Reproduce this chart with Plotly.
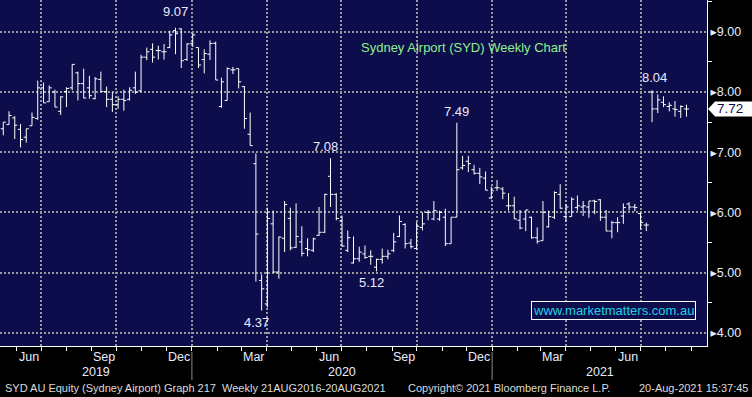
import pandas as pd
import plotly.graph_objects as go

# ---------------- data ----------------
week_end = pd.date_range(end="2021-08-20", periods=120, freq="7D")

opens = [7.39, 7.46, 7.57, 7.38, 7.25, 7.44, 7.56, 8.07, 7.84, 8.00,
         7.68, 8.01, 8.07, 8.32, 8.14, 8.07, 7.89, 8.21, 8.01, 7.88,
         7.79, 7.88, 7.88, 8.07, 8.02, 8.58, 8.71, 8.69, 8.67, 8.74,
         9.02, 9.05, 8.54, 8.81, 8.74, 8.54, 8.63, 8.81, 7.76, 7.86,
         8.37, 8.39, 8.09, 7.30, 6.81, 4.87, 4.48, 5.81, 5.01, 5.57,
         5.90, 5.42, 5.51, 5.40, 5.37, 5.62, 5.67, 6.60, 6.30, 5.86,
         5.37, 5.16, 5.23, 5.31, 5.27, 5.09, 5.22, 5.27, 5.37, 5.60,
         5.80, 5.49, 5.40, 5.75, 6.00, 5.89, 5.89, 5.92, 5.48, 5.92,
         6.74, 6.85, 6.71, 6.65, 6.57, 6.24, 6.41, 6.39, 6.11, 6.11,
         5.87, 5.89, 5.92, 5.58, 5.53, 5.76, 5.92, 6.30, 5.93, 5.93,
         6.08, 6.09, 6.09, 6.19, 6.21, 5.92, 5.69, 5.83, 5.94, 6.14,
         6.09, 5.98, 5.79, 8.00, 7.72, 7.83, 7.76, 7.72, 7.68, 7.72]
highs = [7.50, 7.68, 7.60, 7.47, 7.39, 7.66, 8.19, 8.16, 8.11, 8.04,
         7.93, 8.08, 8.46, 8.34, 8.39, 8.27, 8.25, 8.34, 8.09, 8.00,
         7.93, 8.04, 8.08, 8.34, 8.62, 8.74, 8.81, 8.77, 8.80, 9.02,
         9.07, 9.06, 8.81, 8.98, 8.74, 8.71, 8.86, 8.84, 8.24, 8.41,
         8.42, 8.39, 8.10, 7.66, 6.98, 4.97, 6.08, 6.03, 5.60, 6.19,
         6.08, 6.15, 5.77, 5.57, 5.58, 6.09, 6.31, 6.90, 6.32, 5.95,
         5.70, 5.60, 5.43, 5.45, 5.37, 5.23, 5.40, 5.38, 5.66, 5.95,
         5.82, 5.56, 5.84, 6.00, 6.04, 6.19, 6.03, 6.06, 5.92, 7.49,
         6.94, 6.94, 6.79, 6.74, 6.68, 6.43, 6.54, 6.42, 6.32, 6.26,
         6.04, 6.04, 5.93, 5.75, 6.19, 6.03, 6.35, 6.47, 6.14, 6.25,
         6.28, 6.19, 6.19, 6.21, 6.22, 6.04, 5.86, 5.92, 6.15, 6.17,
         6.14, 6.00, 5.83, 8.03, 7.96, 7.93, 7.83, 7.85, 7.78, 7.79]
lows = [7.28, 7.46, 7.22, 7.08, 7.16, 7.44, 7.54, 7.82, 7.84, 7.75,
        7.62, 7.75, 8.03, 7.86, 7.90, 7.89, 7.88, 8.01, 7.75, 7.67,
        7.72, 7.69, 7.86, 7.97, 8.01, 8.53, 8.49, 8.54, 8.54, 8.73,
        8.63, 8.40, 8.52, 8.75, 8.40, 8.31, 8.53, 8.20, 7.74, 7.86,
        8.30, 8.06, 7.39, 7.11, 4.85, 4.37, 4.42, 5.00, 4.90, 5.34,
        5.37, 5.41, 5.27, 5.27, 5.34, 5.61, 5.66, 6.09, 5.87, 5.43,
        5.34, 5.15, 5.18, 5.23, 5.13, 5.02, 5.15, 5.22, 5.34, 5.59,
        5.40, 5.40, 5.38, 5.70, 5.87, 5.87, 5.86, 5.44, 5.48, 5.92,
        6.71, 6.67, 6.63, 6.47, 6.37, 6.22, 6.36, 6.22, 6.03, 5.89,
        5.72, 5.69, 5.56, 5.48, 5.53, 5.75, 5.89, 6.06, 5.85, 5.93,
        6.03, 5.94, 5.91, 5.97, 5.86, 5.69, 5.57, 5.67, 5.81, 6.03,
        6.02, 5.72, 5.69, 7.50, 7.65, 7.75, 7.68, 7.59, 7.57, 7.59]
closes = [7.50, 7.61, 7.45, 7.21, 7.39, 7.58, 8.07, 7.82, 8.07, 7.75,
          7.92, 8.06, 8.46, 8.14, 7.90, 7.94, 8.22, 8.01, 7.88, 7.79,
          7.88, 7.86, 8.03, 8.00, 8.58, 8.67, 8.58, 8.69, 8.67, 8.95,
          8.97, 8.52, 8.80, 8.95, 8.45, 8.64, 8.81, 8.20, 8.17, 8.39,
          8.37, 8.17, 7.56, 7.11, 5.64, 4.73, 5.90, 5.01, 5.59, 6.13,
          5.41, 5.60, 5.32, 5.38, 5.56, 5.67, 6.30, 6.30, 5.90, 5.44,
          5.58, 5.23, 5.34, 5.25, 5.27, 5.22, 5.27, 5.31, 5.51, 5.85,
          5.48, 5.43, 5.77, 5.81, 6.00, 6.03, 6.00, 5.48, 5.92, 6.71,
          6.78, 6.81, 6.65, 6.59, 6.37, 6.36, 6.41, 6.32, 6.11, 5.89,
          5.74, 6.04, 5.58, 5.52, 6.00, 5.93, 6.33, 6.07, 6.09, 6.22,
          6.11, 6.11, 6.19, 6.18, 5.92, 5.69, 5.83, 5.83, 6.08, 6.09,
          6.08, 5.83, 5.79, 7.72, 7.87, 7.79, 7.78, 7.71, 7.76, 7.72]

# highlighted extremes: (bar index, label)
peak_idx = [30, 57, 79, 113]
peak_text = ["9.07", "7.08", "7.49", "8.04"]
peak_xshift = [0, -5, 0, 2]
peak_yshift = [7, 2, 2, 3]
trough_idx = [45, 65]
trough_text = ["4.37", "5.12"]
trough_xshift = [-5, -5]

price_ticks = [4, 5, 6, 7, 8, 9]
price_minor = [4.5, 5.5, 6.5, 7.5, 8.5, 9.5]

month_label_starts = ["2019-06-01", "2019-09-01", "2019-12-01", "2020-03-01",
                      "2020-06-01", "2020-09-01", "2020-12-01", "2021-03-01",
                      "2021-06-01"]
month_label_names = ["Jun", "Sep", "Dec", "Mar", "Jun", "Sep", "Dec", "Mar", "Jun"]
quarter_lines = ["2019-07-01", "2019-10-01", "2020-01-01", "2020-04-01",
                 "2020-07-01", "2020-10-01", "2021-01-01", "2021-04-01",
                 "2021-07-01"]
years = [2019, 2020, 2021]

footer_left = "SYD AU Equity (Sydney Airport) Graph 217\u00a0\u00a0Weekly 21AUG2016-20AUG2021"
footer_mid = "Copyright\u00a9 2021 Bloomberg Finance L.P."
footer_right = "20-Aug-2021 15:37:45"

x_left = pd.Timestamp("2019-05-12")
x_right = pd.Timestamp("2021-09-20")

# ---------------- style ----------------
NAVY = "#0d0d4b"
GRID = "#9a9a9a"
TXT = "#e8ecff"
FONT = "Liberation Sans, Arial, DejaVu Sans, sans-serif"
PLOT_H = 346.0
PLOT_W = 707.0

# Bloomberg draws each weekly bar just after its week-ending date
bar_x = week_end + pd.Timedelta(days=6)

fig = go.Figure(go.Ohlc(
    x=bar_x, open=opens, high=highs, low=lows, close=closes,
    increasing=dict(line=dict(color="white", width=1)),
    decreasing=dict(line=dict(color="white", width=1)),
    tickwidth=0.45, hoverinfo="skip", showlegend=False))

month_starts = pd.date_range("2019-06-01", "2021-09-01", freq="MS")

fig.update_layout(
    width=752, height=397,
    margin=dict(l=0, r=45, t=0, b=51),
    paper_bgcolor="black", plot_bgcolor=NAVY,
    showlegend=False,
    font=dict(family=FONT, color=TXT, size=12.5),
    xaxis=dict(
        type="date", range=[x_left, x_right],
        rangeslider=dict(visible=False),
        tickmode="array", tickvals=quarter_lines,
        showticklabels=False,
        ticks="outside", ticklen=4, tickcolor="white", tickwidth=1,
        showgrid=True, gridcolor=GRID, gridwidth=2, griddash="2px,2px",
        showline=True, linecolor="white", linewidth=1,
        zeroline=False, fixedrange=True,
        minor=dict(tickvals=list(month_starts), ticks="outside", ticklen=4,
                   tickcolor="white", tickwidth=1, showgrid=False),
    ),
    yaxis=dict(
        side="right", range=[3.78, 9.53],
        tickmode="array", tickvals=price_ticks,
        ticktext=["\u25b8" + f"{v:.2f}" for v in price_ticks],
        ticks="", ticklabelstandoff=0,
        tickfont=dict(size=12.5, color=TXT, family=FONT),
        showgrid=True, gridcolor=GRID, gridwidth=2, griddash="2px,2px",
        showline=True, linecolor="white", linewidth=1,
        zeroline=False, fixedrange=True,
        minor=dict(tickvals=price_minor, ticks="outside", ticklen=4,
                   tickcolor="white", tickwidth=1, showgrid=False),
    ),
)

ann = []
# extremes
for i, t, dx, dy in zip(peak_idx, peak_text, peak_xshift, peak_yshift):
    ann.append(dict(x=bar_x[i], y=highs[i], xref="x", yref="y", text=t,
                    showarrow=False, xanchor="center", yanchor="bottom",
                    yshift=dy, xshift=dx, font=dict(size=13, color=TXT)))
for i, t, dx in zip(trough_idx, trough_text, trough_xshift):
    ann.append(dict(x=bar_x[i], y=lows[i], xref="x", yref="y", text=t,
                    showarrow=False, xanchor="center", yanchor="top",
                    yshift=-2, xshift=dx, font=dict(size=13, color=TXT)))

# month labels (centred in their month)
for s, name in zip(month_label_starts, month_label_names):
    st = pd.Timestamp(s)
    mid = st + (st + pd.offsets.MonthBegin(1) - st) / 2
    ann.append(dict(x=mid, y=0, xref="x", yref="paper", text=name,
                    showarrow=False, xanchor="center", yanchor="middle",
                    yshift=-11, font=dict(size=12.5, color=TXT)))

# year labels centred in visible part of each year
shapes = []
for y in years:
    a = max(x_left, pd.Timestamp(f"{y}-01-01"))
    b = min(x_right, pd.Timestamp(f"{y + 1}-01-01"))
    ann.append(dict(x=a + (b - a) / 2, y=0, xref="x", yref="paper", text=str(y),
                    showarrow=False, xanchor="center", yanchor="middle",
                    yshift=-26, font=dict(size=12.5, color=TXT)))
    if pd.Timestamp(f"{y}-01-01") > x_left:
        shapes.append(dict(type="line", xref="x", yref="paper",
                           x0=f"{y}-01-01", x1=f"{y}-01-01",
                           y0=-6 / PLOT_H, y1=-34 / PLOT_H,
                           line=dict(color="#8a8a8a", width=1)))

# title
ann.append(dict(x=463 / PLOT_W, y=1 - 48 / PLOT_H, xref="paper", yref="paper",
                text="Sydney Airport (SYD) Weekly Chart", showarrow=False,
                xanchor="center", yanchor="middle",
                font=dict(size=13, color="#8ef08e")))

# watermark
ann.append(dict(x=613 / PLOT_W, y=1 - 310 / PLOT_H, xref="paper", yref="paper",
                text="www.marketmatters.com.au", showarrow=False,
                xanchor="center", yanchor="middle",
                bordercolor="white", borderwidth=1, borderpad=1, bgcolor=NAVY,
                font=dict(size=13, color="#22cfe8")))

# last price tag
last = closes[-1]
half = 7.5 / PLOT_H * (9.53 - 3.78)
x_tip, x_sh, x_end = 708 / PLOT_W, 715 / PLOT_W, 752 / PLOT_W
shapes.append(dict(type="path", xref="paper", yref="y",
                   path=f"M {x_tip} {last} L {x_sh} {last + half} L {x_end} {last + half} "
                        f"L {x_end} {last - half} L {x_sh} {last - half} Z",
                   fillcolor="white", line=dict(color="white", width=0)))
ann.append(dict(x=730 / PLOT_W, y=last, xref="paper", yref="y", text=f"{last:.2f}",
                showarrow=False, xanchor="center", yanchor="middle",
                font=dict(size=13.5, color=NAVY)))

# footer
FOOT = dict(size=11, color="#dcdcdc")
ann.append(dict(x=3 / PLOT_W, y=0, xref="paper", yref="paper", xanchor="left",
                yanchor="middle", yshift=-42, showarrow=False, font=FOOT,
                text=footer_left))
ann.append(dict(x=406 / PLOT_W, y=0, xref="paper", yref="paper", xanchor="left",
                yanchor="middle", yshift=-42, showarrow=False, font=FOOT,
                text=footer_mid))
ann.append(dict(x=750 / PLOT_W, y=0, xref="paper", yref="paper", xanchor="right",
                yanchor="middle", yshift=-42, showarrow=False, font=FOOT,
                text=footer_right))

fig.update_layout(annotations=ann, shapes=shapes)
fig.write_html("out.html",
               config={"displayModeBar": False, "staticPlot": True},
               post_script="document.body.style.margin='0';"
                           "document.body.style.background='black';")
